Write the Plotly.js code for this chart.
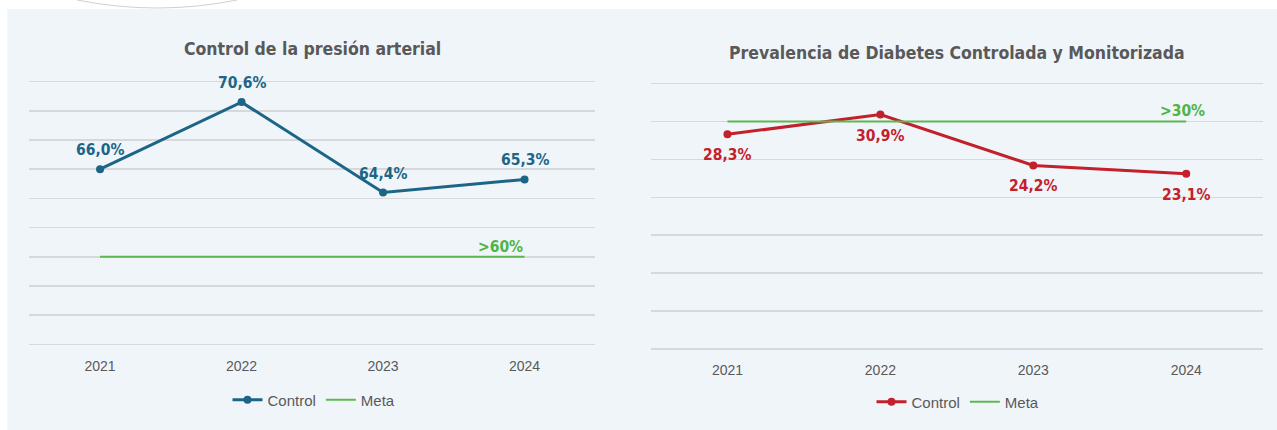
<!DOCTYPE html>
<html>
<head>
<meta charset="utf-8">
<script src="https://cdn.plot.ly/plotly-3.0.1.min.js"></script>
<style>
  html, body { margin: 0; padding: 0; background: #ffffff; }
  #chart { width: 1277px; height: 430px; }
</style>
</head>
<body>
<div id="chart"></div>
<script>
// ---- data ----
const years = ['2021', '2022', '2023', '2024'];
const presionControl = [66.0, 70.6, 64.4, 65.3];
const presionMeta = [60, 60, 60, 60];
const presionMetaLabel = '>60%';
const presionAxis = [54, 72, 2];      // min, max, step
const diabetesControl = [28.3, 30.9, 24.2, 23.1];
const diabetesMeta = [30, 30, 30, 30];
const diabetesMetaLabel = '>30%';
const diabetesAxis = [0, 35, 5];      // min, max, step
const titleLeft = 'Control de la presión arterial';
const titleRight = 'Prevalencia de Diabetes Controlada y Monitorizada';
const seriesNames = ['Control', 'Meta'];

// ---- style ----
const W = 1277, H = 430;
const px = v => v / W;
const py = v => 1 - v / H;
const BLUE = '#1c6587';
const RED = '#c3202c';
const GREEN = '#5cb84f';
const GREEN_TXT = '#4fb446';
const GRAY = '#595959';
const GRID = '#d6d8da';
const BG = '#f0f5f9';
const FONT = 'Liberation Sans Narrow, DejaVu Sans Condensed, Liberation Sans, sans-serif';
const FONT_REG = 'Liberation Sans, Noto Sans, sans-serif';
const PADPX = 2.5; // keep the end gridlines inside the plot area

const fmt = v => v.toFixed(1).replace('.', ',') + '%';

// y-axis: map [min,max] onto pixel band [top,bottom], padded so edge gridlines are drawn
function yAxisFor(ax, top, bottom) {
  const [lo, hi, step] = ax;
  const per = (bottom - top) / (hi - lo);
  const pad = PADPX / per;
  return { domain: [py(bottom + PADPX), py(top - PADPX)], range: [lo - pad, hi + pad], tick0: lo, dtick: step };
}

const traces = [
  { x: years, y: presionControl, name: seriesNames[0], type: 'scatter', mode: 'lines+markers',
    line: { color: BLUE, width: 3 }, marker: { color: BLUE, size: 8 },
    xaxis: 'x', yaxis: 'y', legend: 'legend', hoverinfo: 'skip' },
  { x: years, y: presionMeta, name: seriesNames[1], type: 'scatter', mode: 'lines',
    line: { color: GREEN, width: 2 }, xaxis: 'x', yaxis: 'y', legend: 'legend', hoverinfo: 'skip' },
  { x: years, y: diabetesControl, name: seriesNames[0], type: 'scatter', mode: 'lines+markers',
    line: { color: RED, width: 3 }, marker: { color: RED, size: 8 },
    xaxis: 'x2', yaxis: 'y2', legend: 'legend2', hoverinfo: 'skip' },
  { x: years, y: diabetesMeta, name: seriesNames[1], type: 'scatter', mode: 'lines',
    line: { color: GREEN, width: 2 }, xaxis: 'x2', yaxis: 'y2', legend: 'legend2', hoverinfo: 'skip' }
];

const annotations = [];
annotations.push({ xref: 'paper', yref: 'paper', x: px(312), y: py(49), text: '<b>' + titleLeft + '</b>',
  showarrow: false, xanchor: 'center', yanchor: 'middle', font: { family: FONT, size: 17.5, color: GRAY } });
annotations.push({ xref: 'paper', yref: 'paper', x: px(957), y: py(53), text: '<b>' + titleRight + '</b>',
  showarrow: false, xanchor: 'center', yanchor: 'middle', font: { family: FONT, size: 17.5, color: GRAY } });

// category axes: annotation x uses the category index
presionControl.forEach((v, i) => annotations.push({
  xref: 'x', yref: 'y', x: i, y: v, text: '<b>' + fmt(v) + '</b>', showarrow: false,
  yshift: 19, xanchor: 'center', yanchor: 'middle', font: { family: FONT, size: 15.5, color: BLUE } }));
diabetesControl.forEach((v, i) => annotations.push({
  xref: 'x2', yref: 'y2', x: i, y: v, text: '<b>' + fmt(v) + '</b>', showarrow: false,
  yshift: -21, xanchor: 'center', yanchor: 'middle', font: { family: FONT, size: 15.5, color: RED } }));

annotations.push({ xref: 'x', yref: 'y', x: years.length - 1, y: presionMeta[presionMeta.length - 1],
  text: '<b>' + presionMetaLabel + '</b>', showarrow: false, xanchor: 'right', yanchor: 'middle',
  yshift: 10, xshift: 0, font: { family: FONT, size: 15.5, color: GREEN_TXT } });
annotations.push({ xref: 'x2', yref: 'y2', x: years.length - 1, y: diabetesMeta[diabetesMeta.length - 1],
  text: '<b>' + diabetesMetaLabel + '</b>', showarrow: false, xanchor: 'center', yanchor: 'middle',
  yshift: 10, xshift: -4, font: { family: FONT, size: 15.5, color: GREEN_TXT } });

const xaxisBase = {
  type: 'category', range: [-0.5, 3.5], showgrid: false, zeroline: false, showline: false,
  ticks: '', tickfont: { family: FONT_REG, size: 14, color: GRAY }, fixedrange: true
};
const yaxisBase = {
  showgrid: true, gridcolor: GRID, gridwidth: 1.5, zeroline: false, showline: false,
  showticklabels: false, ticks: '', fixedrange: true
};

// arc seen at the top edge (pixel coords converted to paper)
const arcPath = 'M ' + px(77) + ' ' + py(0) + ' Q ' + px(157) + ' ' + py(16) + ' ' + px(237) + ' ' + py(0);

const layout = {
  width: W, height: H,
  margin: { l: 0, r: 0, t: 0, b: 0 },
  paper_bgcolor: '#ffffff', plot_bgcolor: 'rgba(0,0,0,0)',
  showlegend: true,
  xaxis: Object.assign({}, xaxisBase, { domain: [px(29.3), px(595.3)], anchor: 'y', ticklabelstandoff: 9 }),
  yaxis: Object.assign({}, yaxisBase, yAxisFor(presionAxis, 81.7, 344.3), { anchor: 'x' }),
  xaxis2: Object.assign({}, xaxisBase, { domain: [px(651), px(1262.7)], anchor: 'y2', ticklabelstandoff: 8 }),
  yaxis2: Object.assign({}, yaxisBase, yAxisFor(diabetesAxis, 83.5, 349), { anchor: 'x2' }),
  legend: { orientation: 'h', x: px(314), xanchor: 'center', y: py(400), yanchor: 'middle',
    bgcolor: 'rgba(0,0,0,0)', font: { family: FONT_REG, size: 15, color: GRAY }, itemwidth: 30 },
  legend2: { orientation: 'h', x: px(958), xanchor: 'center', y: py(402), yanchor: 'middle',
    bgcolor: 'rgba(0,0,0,0)', font: { family: FONT_REG, size: 15, color: GRAY }, itemwidth: 30 },
  shapes: [
    { type: 'rect', xref: 'paper', yref: 'paper', x0: px(7.3), x1: 1, y0: 0, y1: py(9),
      fillcolor: BG, line: { width: 0 }, layer: 'below' },
    { type: 'path', xref: 'paper', yref: 'paper', path: arcPath,
      line: { color: '#d0d0d0', width: 1 }, layer: 'below' }
  ],
  annotations: annotations
};

Plotly.newPlot('chart', traces, layout, { displayModeBar: false, staticPlot: true });
</script>
</body>
</html>
